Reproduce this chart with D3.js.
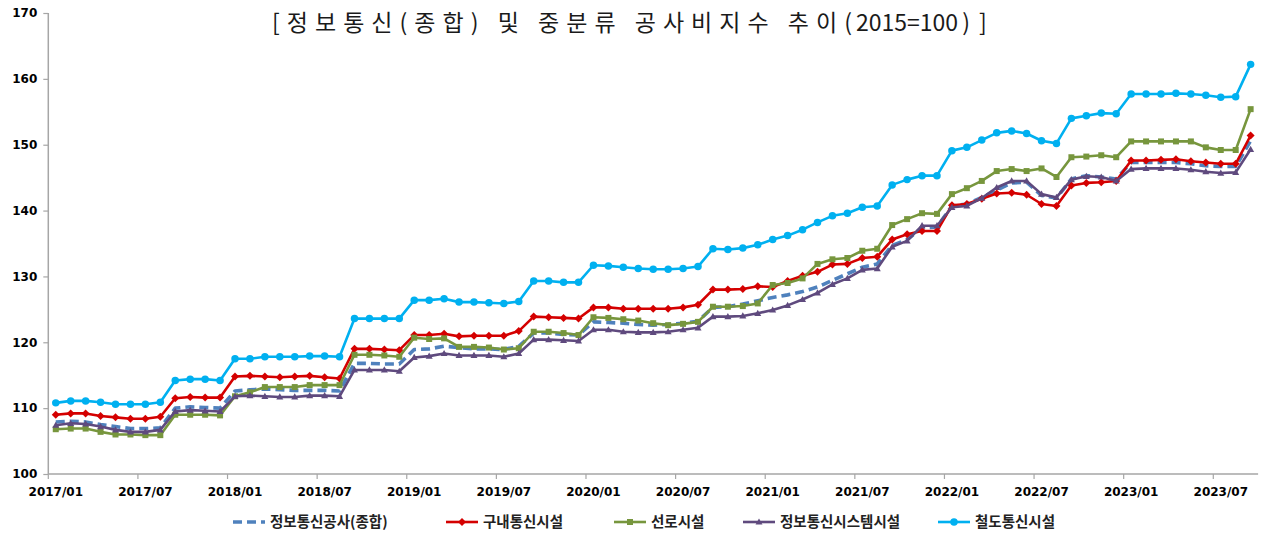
<!DOCTYPE html>
<html>
<head>
<meta charset="utf-8">
<script src="https://cdn.jsdelivr.net/npm/d3@7"></script>
<style>
    body { margin: 0; background: #fff; }
    svg { display: block; }
</style>
</head>
<body>
<div id="chart-area"></div>
<script>

// Categories: monthly, 2017/01 .. 2023/09
let months = [];
for (let yr = 2017; yr <= 2023; yr++) {
    for (let m = 1; m <= 12; m++) {
        if (yr === 2023 && m > 9) break;
        months.push(yr + "/" + (m < 10 ? "0" + m : "" + m));
    }
}

let xTickLabels = ["2017/01", "2017/07", "2018/01", "2018/07", "2019/01", "2019/07", "2020/01",
    "2020/07", "2021/01", "2021/07", "2022/01", "2022/07", "2023/01", "2023/07"];
let yTicks = [100, 110, 120, 130, 140, 150, 160, 170];

// Series values
let totalIdx = [
    107.9, 108.0, 107.9, 107.5, 107.2, 106.9, 106.9, 107.0, 110.0, 110.2, 110.1, 110.0,
    112.6, 112.8, 112.9, 112.8, 112.7, 112.7, 112.7, 112.6, 116.8, 116.8, 116.7, 116.7,
    118.9, 119.0, 119.4, 119.2, 119.0, 119.0, 118.9, 119.4, 121.4, 121.4, 121.2, 121.1,
    123.1, 123.0, 122.9, 122.7, 122.6, 122.7, 122.9, 123.2, 125.3, 125.4, 125.8, 126.3,
    126.8, 127.2, 127.7, 128.4, 129.4, 130.4, 131.4, 131.9, 134.7, 135.6, 137.4, 137.5,
    140.7, 141.0, 142.0, 143.1, 144.2, 144.3, 142.3, 141.9, 144.8, 145.3, 145.1, 144.8,
    147.3, 147.3, 147.3, 147.3, 147.1, 146.8, 146.7, 146.7, 150.6
];
let indoorIdx = [
    109.0, 109.2, 109.2, 108.8, 108.6, 108.4, 108.4, 108.7, 111.5, 111.7, 111.6, 111.6,
    114.8, 114.9, 114.8, 114.7, 114.8, 114.9, 114.7, 114.5, 119.0, 119.0, 118.9, 118.8,
    121.1, 121.1, 121.3, 120.9, 121.0, 121.0, 121.0, 121.7, 123.9, 123.8, 123.7, 123.6,
    125.3, 125.3, 125.1, 125.1, 125.1, 125.1, 125.3, 125.7, 128.0, 128.0, 128.1, 128.5,
    128.4, 129.3, 130.1, 130.7, 131.8, 131.9, 132.8, 133.0, 135.6, 136.4, 136.9, 136.9,
    140.8, 141.0, 141.8, 142.6, 142.7, 142.4, 141.0, 140.7, 143.8, 144.2, 144.3, 144.5,
    147.6, 147.6, 147.7, 147.8, 147.5, 147.3, 147.1, 147.1, 151.4
];
let lineIdx = [
    106.8, 106.9, 106.9, 106.4, 106.0, 106.0, 105.9, 105.9, 109.0, 109.0, 109.0, 108.9,
    111.8, 112.4, 113.2, 113.2, 113.2, 113.5, 113.5, 113.5, 118.1, 118.1, 118.0, 117.8,
    120.7, 120.5, 120.6, 119.3, 119.3, 119.2, 118.9, 119.1, 121.6, 121.6, 121.4, 121.1,
    123.8, 123.7, 123.5, 123.3, 122.9, 122.6, 122.8, 123.1, 125.4, 125.4, 125.5, 125.9,
    128.7, 129.0, 129.7, 131.9, 132.6, 132.8, 133.9, 134.2, 137.8, 138.7, 139.6, 139.5,
    142.5, 143.4, 144.5, 146.0, 146.3, 146.0, 146.4, 145.1, 148.1, 148.2, 148.4, 148.1,
    150.5, 150.5, 150.5, 150.5, 150.5, 149.6, 149.2, 149.2, 155.4
];
let systemIdx = [
    107.4, 107.7, 107.6, 107.2, 106.7, 106.4, 106.4, 106.7, 109.5, 109.7, 109.6, 109.5,
    111.8, 111.9, 111.8, 111.7, 111.7, 111.9, 111.9, 111.8, 115.8, 115.8, 115.8, 115.6,
    117.7, 117.9, 118.3, 118.0, 118.0, 118.0, 117.8, 118.3, 120.4, 120.4, 120.3, 120.2,
    121.9, 121.9, 121.6, 121.5, 121.5, 121.6, 121.9, 122.2, 123.9, 123.9, 124.0, 124.4,
    124.9, 125.6, 126.5, 127.5, 128.8, 129.7, 131.0, 131.2, 134.5, 135.4, 137.7, 137.7,
    140.5, 140.7, 141.9, 143.5, 144.5, 144.5, 142.5, 142.0, 144.7, 145.2, 145.1, 144.5,
    146.3, 146.4, 146.4, 146.4, 146.2, 145.9, 145.7, 145.8, 149.3
];
let railIdx = [
    110.8, 111.1, 111.1, 110.9, 110.6, 110.6, 110.6, 110.9, 114.2, 114.4, 114.4, 114.2,
    117.5, 117.5, 117.8, 117.8, 117.8, 117.9, 117.9, 117.8, 123.6, 123.6, 123.6, 123.6,
    126.4, 126.4, 126.6, 126.1, 126.1, 126.0, 125.9, 126.2, 129.3, 129.3, 129.1, 129.1,
    131.7, 131.6, 131.4, 131.2, 131.1, 131.1, 131.2, 131.5, 134.2, 134.1, 134.3, 134.8,
    135.6, 136.2, 137.1, 138.2, 139.2, 139.6, 140.5, 140.7, 143.9, 144.7, 145.3, 145.3,
    149.1, 149.6, 150.7, 151.8, 152.1, 151.7, 150.6, 150.2, 154.0, 154.4, 154.8, 154.7,
    157.7, 157.7, 157.7, 157.8, 157.7, 157.5, 157.2, 157.3, 162.2
];

let seriesNames = ["정보통신공사(종합)", "구내통신시설", "선로시설", "정보통신시스템시설", "철도통신시설"];

// Styles
let seriesColors = ["#4F81BD", "#D40000", "#77963D", "#5F4A7E", "#00B0F0"];
let seriesMarkers = ["none", "diamond", "square", "triangle", "circle"];

let series = [totalIdx, indoorIdx, lineIdx, systemIdx, railIdx].map(function (vals, i) {
    return {
        name: seriesNames[i],
        color: seriesColors[i],
        marker: seriesMarkers[i],
        values: vals.map(function (v, j) { return {month: months[j], value: v}; })
    };
});

let width = 1262, height = 533;

let svg = d3.select("#chart-area").append("svg")
    .attr("width", width)
    .attr("height", height);

// Scales
let x = d3.scaleBand()
    .domain(months)
    .range([48.3, 1258.1])
    .padding(0);

let bw = x.bandwidth();

let y = d3.scaleLinear()
    .domain([100, 170])
    .range([474, 13]);

// Axes
let axisColor = "#A6A6A6";

let yAxisGroup = svg.append("g")
    .attr("class", "y-axis axis")
    .attr("transform", "translate(48.3,0)")
    .call(d3.axisLeft(y).tickValues(yTicks).tickSize(5).tickPadding(6));

yAxisGroup.select(".domain").attr("stroke", axisColor).attr("stroke-width", 1.5)
    .attr("d", "M0," + y(100) + "V" + y(170));
yAxisGroup.selectAll(".tick line").attr("stroke", axisColor).attr("stroke-width", 1.2);
yAxisGroup.selectAll(".tick text")
    .attr("fill", "#000")
    .style("font-family", "'DejaVu Sans', Verdana, sans-serif")
    .style("font-weight", "bold")
    .style("font-size", "12px");

let xAxisGroup = svg.append("g")
    .attr("class", "x-axis axis")
    .attr("transform", "translate(0,474)")
    .call(d3.axisBottom(x).tickValues(xTickLabels).tickSize(5).tickPadding(8));

xAxisGroup.select(".domain").attr("stroke", axisColor).attr("stroke-width", 1.5)
    .attr("d", "M48.3,0H1258.1");
xAxisGroup.selectAll(".tick line")
    .attr("stroke", axisColor).attr("stroke-width", 1.2)
    .attr("x1", -bw / 2).attr("x2", -bw / 2);
xAxisGroup.selectAll(".tick text")
    .attr("fill", "#000")
    .style("font-family", "'DejaVu Sans', Verdana, sans-serif")
    .style("font-weight", "bold")
    .style("font-size", "12px");

// Lines
let line = d3.line()
    .x(function (d) { return x(d.month) + bw / 2; })
    .y(function (d) { return y(d.value); })
    .curve(d3.curveLinear);

function markerPath(type) {
    if (type === "diamond") return "M0,-4L4,0L0,4L-4,0Z";
    if (type === "square") return "M-3,-3H3V3H-3Z";
    if (type === "triangle") return "M0,-3.6L3.5,2.6H-3.5Z";
    if (type === "circle") return d3.symbol().type(d3.symbolCircle).size(44)();
    return "";
}

series.forEach(function (s) {
    let g = svg.append("g").attr("class", "series");
    g.append("path")
        .attr("class", "line")
        .attr("d", line(s.values))
        .attr("fill", "none")
        .attr("stroke", s.color)
        .attr("stroke-width", s.marker === "none" ? 3.6 : 2.6)
        .attr("stroke-dasharray", s.marker === "none" ? "9,5" : null)
        .attr("stroke-linejoin", "round");

    if (s.marker !== "none") {
        g.selectAll(".marker")
            .data(s.values)
            .enter().append("path")
            .attr("class", "marker")
            .attr("d", markerPath(s.marker))
            .attr("fill", s.color)
            .attr("transform", function (d) {
                return "translate(" + (x(d.month) + bw / 2) + "," + y(d.value) + ")";
            });
    }
});

// Title (Korean part spaced wide, numbers kept tight)
let titleFont = "'Noto Sans CJK KR', sans-serif";
let title = svg.append("g").attr("class", "title")
    .style("font-family", titleFont)
    .style("font-size", "23px")
    .attr("fill", "#1a1a1a");

title.append("text")
    .attr("x", 272).attr("y", 31)
    .attr("textLength", 580)
    .attr("lengthAdjust", "spacing")
    .text("[정보통신(종합) 및 중분류 공사비지수 추이(");

let titleNum = title.append("text")
    .attr("x", 856).attr("y", 31)
    .text("2015=100");

let numEnd = 856 + titleNum.node().getComputedTextLength();

title.append("text")
    .attr("x", numEnd + 4).attr("y", 31)
    .style("letter-spacing", "9px")
    .text(")]");

// Legend
let legendX = [233, 446, 614, 743, 938];
let legend = svg.append("g").attr("class", "legend");

series.forEach(function (s, i) {
    let lg = legend.append("g").attr("transform", "translate(" + legendX[i] + ",522)");
    lg.append("line")
        .attr("x1", 0).attr("x2", 32)
        .attr("y1", 0).attr("y2", 0)
        .attr("stroke", s.color)
        .attr("stroke-width", s.marker === "none" ? 3.6 : 2.6)
        .attr("stroke-dasharray", s.marker === "none" ? "9,5" : null);
    if (s.marker !== "none") {
        lg.append("path")
            .attr("d", markerPath(s.marker))
            .attr("fill", s.color)
            .attr("transform", "translate(16,0)");
    }
    lg.append("text")
        .attr("x", 37)
        .attr("y", 5)
        .style("font-family", "'Noto Sans CJK KR', sans-serif")
        .style("font-size", "14.5px")
        .style("font-weight", "bold")
        .attr("fill", "#222")
        .text(s.name);
});

</script>
</body>
</html>
